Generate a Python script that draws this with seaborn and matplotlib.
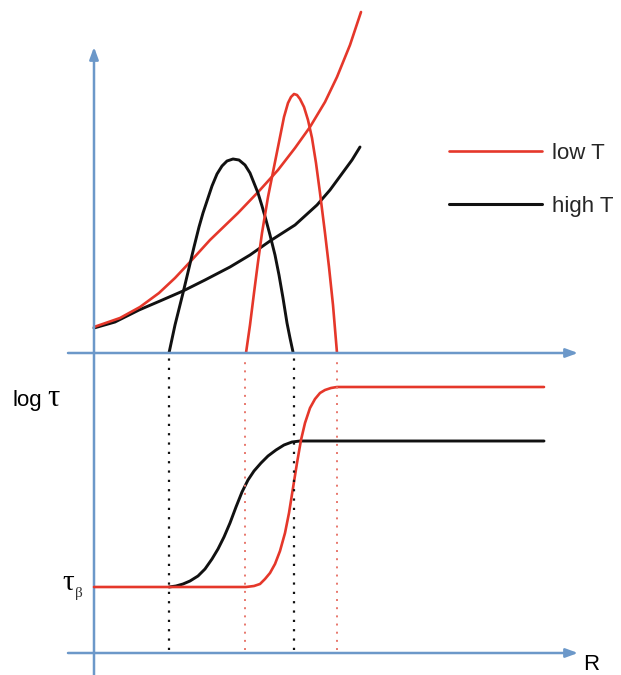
import matplotlib
matplotlib.use("Agg")
import matplotlib.pyplot as plt
from matplotlib.lines import Line2D
import seaborn as sns
import numpy as np

sns.set_theme(style="white")
plt.rcParams['font.family'] = ['Liberation Sans', 'DejaVu Sans']

RED = "#E5372A"
RED_DOT = "#E8776C"
BLACK = "#111111"
BLUE = "#6C98C9"

# ---- upper panel: R vs. quantity (schematic) ----
red_exp_R = [0, 26, 46, 65, 81, 96, 116, 144, 166, 184, 201, 216, 231, 243, 256, 267]
red_exp_v = [26, 35, 46, 60, 75, 91, 113, 140, 163, 183, 205, 226, 251, 276, 308, 341]
blk_exp_R = [0, 21, 45, 66, 89, 111, 136, 156, 176, 201, 223, 236, 247, 258, 266]
blk_exp_v = [25, 31, 43, 52, 62, 73, 86, 98, 112, 128, 148, 163, 178, 193, 206]
blk_peak_R = [75, 81, 89, 95, 100, 105, 109, 113, 118, 123, 128, 133, 139, 145, 151, 156, 160, 164, 168, 172, 176, 181, 185, 189, 193, 196, 199]
blk_peak_v = [0, 28, 60, 85, 106, 126, 140, 152, 167, 179, 187, 192, 194, 193, 188, 180, 170, 160, 147, 133, 118, 98, 78, 55, 30, 15, 1]
red_peak_R = [152, 156, 160, 164, 168, 174, 180, 186, 190, 194, 197, 200, 203, 206, 210, 214, 218, 222, 226, 231, 235, 239, 243]
red_peak_v = [0, 28, 60, 91, 120, 156, 186, 216, 236, 250, 256, 259, 258, 254, 246, 233, 215, 190, 160, 120, 86, 48, 0]

# ---- lower panel: log tau vs R ----
red_sig_R = [0, 152, 160, 166, 171, 176, 181, 186, 191, 195, 199, 203, 207, 211, 216, 221, 226, 231, 237, 243, 450]
red_sig_v = [66, 66, 67, 69, 74, 80, 89, 102, 120, 140, 165, 190, 213, 230, 245, 254, 260, 263, 265, 266, 266]
blk_sig_R = [75, 82, 89, 96, 104, 111, 118, 124, 130, 136, 142, 148, 154, 160, 167, 174, 182, 190, 198, 206, 450]
blk_sig_v = [66, 67, 69, 72, 77, 84, 94, 104, 116, 130, 146, 161, 173, 182, 190, 197, 203, 208, 211, 212, 212]

black_marks_R = [75, 200]
red_marks_R = [151, 243]

legend_labels = ["low T", "high T"]

W, H = 621, 675
fig = plt.figure(figsize=(W / 100, H / 100), dpi=100)
fig.patch.set_facecolor("white")

top_h = 353
ax_top = fig.add_axes([0, (H - top_h) / H, 1, top_h / H])
ax_bot = fig.add_axes([0, 0, 1, (H - top_h) / H])
for ax in (ax_top, ax_bot):
    ax.set_xlim(-94, W - 94)
    ax.axis("off")
ax_top.set_ylim(0, top_h)
ax_bot.set_ylim(-22, H - top_h - 22)

LW = 1.9
kw = dict(sort=False, estimator=None, legend=False)
sns.lineplot(x=blk_exp_R, y=blk_exp_v, color=BLACK, ax=ax_top, linewidth=2.1, **kw)
sns.lineplot(x=red_exp_R, y=red_exp_v, color=RED, ax=ax_top, linewidth=LW, **kw)
sns.lineplot(x=blk_peak_R, y=blk_peak_v, color=BLACK, ax=ax_top, linewidth=2.1, **kw)
sns.lineplot(x=red_peak_R, y=red_peak_v, color=RED, ax=ax_top, linewidth=LW, **kw)

sns.lineplot(x=blk_sig_R, y=blk_sig_v, color=BLACK, ax=ax_bot, linewidth=2.1, **kw)
sns.lineplot(x=red_sig_R, y=red_sig_v, color=RED, ax=ax_bot, linewidth=LW, **kw)

# dotted guide lines
ax_bot.vlines(black_marks_R, 3, 295, colors=BLACK, linestyles=(0, (1, 3.2)), linewidth=1.6)
ax_bot.vlines(red_marks_R, 3, 295, colors=RED_DOT, linestyles=(0, (1, 3.2)), linewidth=1.4)

# axes arrows
arrow = dict(arrowstyle="-|>,head_length=0.6,head_width=0.22", color=BLUE, lw=1.8,
             shrinkA=0, shrinkB=0)
ax_top.annotate("", xy=(0, 306), xytext=(0, -322), arrowprops=arrow, annotation_clip=False)
ax_top.annotate("", xy=(484, 0), xytext=(-26, 0), arrowprops=arrow, annotation_clip=False)
ax_bot.annotate("", xy=(484, 0), xytext=(-26, 0), arrowprops=arrow, annotation_clip=False)

# labels
ax_bot.text(-81, 253, "log", fontsize=16, ha="left", va="center", color="black")
ax_bot.text(-47, 255, "τ", fontsize=22, ha="left", va="center", color="black",
            family=["Liberation Serif", "DejaVu Serif"])
ax_bot.text(-32, 70, "τ", fontsize=21, ha="left", va="center", color="black",
            family=["Liberation Serif", "DejaVu Serif"])
ax_bot.text(-19, 59, "β", fontsize=11, ha="left", va="center", color="#333333",
            family=["Liberation Serif", "DejaVu Serif"])
ax_bot.text(497, -12, "R", fontsize=16, ha="center", va="center", color="black")

handles = [Line2D([0], [0], color=RED, lw=LW), Line2D([0], [0], color=BLACK, lw=2.2)]
fig.legend(handles, legend_labels, loc="center left",
           bbox_to_anchor=(449 / W, 1 - 180 / H), frameon=False, fontsize=16,
           handlelength=4.2, handletextpad=0.45, labelspacing=1.45,
           borderpad=0, borderaxespad=0)

fig.savefig("out.png", dpi=100, facecolor="white")
